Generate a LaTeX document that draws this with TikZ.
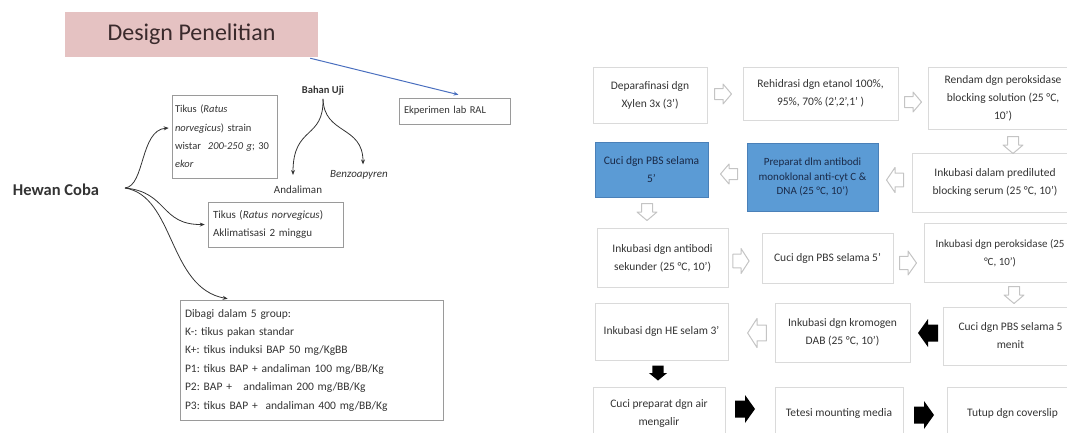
\documentclass[tikz,border=0pt]{standalone}
\usepackage{fontspec}
\setmainfont{Carlito}
\frenchspacing
\usetikzlibrary{arrows.meta,calc}
\definecolor{titlepink}{HTML}{E5C2C2}
\definecolor{titletext}{HTML}{3A2A2C}
\definecolor{ltext}{HTML}{333333}
\definecolor{lboxgray}{HTML}{9A9A9A}
\definecolor{rtext}{HTML}{333333}
\definecolor{rboxgray}{HTML}{DADADA}
\definecolor{boxblue}{HTML}{5B9BD5}
\definecolor{boxblueedge}{HTML}{4A80B8}
\definecolor{bluetext}{HTML}{1A2A48}
\definecolor{arrowgray}{HTML}{C4C4C4}
\definecolor{linkblue}{HTML}{4A6FBF}
\begin{document}
\begin{tikzpicture}[x=1pt,y=-1pt,
  lbox/.style={draw=lboxgray, line width=0.6pt, align=left, inner sep=5pt,
    text=ltext, font=\fontsize{11}{18.4}\selectfont},
  ltxt/.style={text=ltext, inner sep=0pt, font=\fontsize{11}{13}\selectfont},
  rbox/.style={draw=rboxgray, line width=0.8pt, align=center, inner sep=2pt,
    text=rtext, font=\fontsize{11.5}{18}\selectfont},
  bbox/.style={rbox, fill=boxblue, draw=boxblueedge, text=bluetext},
  conn/.style={draw=ltext, line width=0.8pt, -{Stealth[length=5pt,width=4pt]}},
  pics/hollowarr/.style={code={
    \draw[arrowgray, fill=white, line width=1pt, line join=round]
      (-8.5,-5.5) -- (0,-5.5) -- (0,-10) -- (8.5,0) -- (0,10) -- (0,5.5) -- (-8.5,5.5) -- cycle;}},
  pics/blackarr/.style={code={
    \fill[black] (-10,-8.5) -- (0,-8.5) -- (0,-14) -- (10,0) -- (0,14) -- (0,8.5) -- (-10,8.5) -- cycle;}}
]
\useasboundingbox (0,0) rectangle (1067,432);

% ---------- left part ----------
\node[fill=titlepink, minimum width=253pt, minimum height=45pt, inner sep=0pt,
  text=titletext, font=\fontsize{24}{28}\selectfont] (title) at (191.5,34.5) {Design Penelitian};

\node[draw=lboxgray, line width=0.6pt, minimum width=111pt, minimum height=26pt,
  text width=101pt, align=left, inner sep=5pt, text=ltext,
  font=\fontsize{10.5}{13}\selectfont] (eks) at (454.5,111) {Ekperimen lab RAL};

\node[text=ltext, inner sep=0pt, font=\fontsize{16.5}{20}\selectfont\bfseries] (hc) at (56,190) {Hewan Coba};
\coordinate (hcout) at (125,188);

\node[lbox, inner xsep=3pt, minimum width=105pt, minimum height=83pt, text width=99pt,
  font=\fontsize{10.5}{18.4}\selectfont] (b1) at (224.5,136.5)
  {Tikus (\textit{Ratus}\\\textit{norvegicus}) strain\\wistar \ \textit{200-250 g}; 30\\\textit{ekor}};
\node[lbox, minimum width=135pt, minimum height=45pt, text width=125pt] (b2) at (275.5,224.5)
  {Tikus (\textit{Ratus norvegicus})\\Aklimatisasi 2 minggu};
\node[lbox, minimum width=263pt, minimum height=120pt, text width=253pt,
  font=\fontsize{11.5}{18.4}\selectfont] (b3) at (311.5,360)
  {Dibagi dalam 5 group:\\K-: tikus pakan standar\\K+: tikus induksi BAP 50 mg/KgBB\\P1: tikus BAP + andaliman 100 mg/BB/Kg\\P2: BAP + \ \ andaliman 200 mg/BB/Kg\\P3: tikus BAP + \ andaliman 400 mg/BB/Kg};

\node[ltxt, font=\fontsize{10.5}{13}\selectfont\bfseries] (bu) at (323,91) {Bahan Uji};
\node[ltxt] (an) at (298,190) {Andaliman};
\node[ltxt] (bz) at (359,175) {\textit{Benzoapyren}};

\draw[conn] (hcout) .. controls (145,186) and (140,130) .. ($(b1.west)+(-3,-8.5)$);
\draw[conn] (hcout) .. controls (168,192) and (160,225) .. ($(b2.west)+(-3,0)$);
\draw[conn] (hcout) .. controls (175,196) and (168,288) .. ($(b3.north west)+(48,-1)$);
\draw[conn] ($(bu.south)+(0,3)$) .. controls (324,140) and (293,125) .. ($(an.north)+(-5,-11)$);
\draw[conn] ($(bu.south)+(0,3)$) .. controls (324,135) and (363,125) .. ($(bz.north)+(4,-6)$);
\draw[draw=linkblue, line width=1pt, -{Stealth[length=5pt,width=4pt]}]
  ($(title.south east)+(-8,1)$) -- ($(eks.north)+(4,-3)$);

% ---------- right part ----------
\node[rbox, minimum width=114pt, minimum height=56pt] (r1a) at (650,95) {Deparafinasi dgn\\Xylen 3x (3')};
\node[rbox, minimum width=155pt, minimum height=53pt] (r1b) at (820.5,93.5) {Rehidrasi dgn etanol 100\%,\\95\%, 70\% (2',2',1' )};
\node[rbox, minimum width=150pt, minimum height=62pt] (r1c) at (1003,98) {Rendam dgn peroksidase\\blocking solution (25 °C,\\10')};

\node[bbox, minimum width=113pt, minimum height=55pt] (r2a) at (651.5,169.5) {Cuci dgn PBS selama\\5'};
\node[bbox, minimum width=131pt, minimum height=68pt, font=\fontsize{11}{14.5}\selectfont] (r2b) at (812.5,177) {Preparat dlm antibodi\\monoklonal anti-cyt C \&\\DNA (25 °C, 10')};
\node[rbox, minimum width=166pt, minimum height=59pt] (r2c) at (995,182.5) {Inkubasi dalam prediluted\\blocking serum (25 °C, 10')};

\node[rbox, minimum width=131pt, minimum height=59pt] (r3a) at (662.5,258) {Inkubasi dgn antibodi\\sekunder (25 °C, 10')};
\node[rbox, minimum width=131pt, minimum height=50pt] (r3b) at (827.5,258) {Cuci dgn PBS selama 5'};
\node[rbox, minimum width=151pt, minimum height=59pt, font=\fontsize{11}{18}\selectfont] (r3c) at (1000,253) {Inkubasi dgn peroksidase (25\\°C, 10')};

\node[rbox, minimum width=133pt, minimum height=57pt] (r4a) at (661.5,331.5) {Inkubasi dgn HE selam 3'};
\node[rbox, minimum width=135pt, minimum height=59pt] (r4b) at (842.5,332.5) {Inkubasi dgn kromogen\\DAB (25 °C, 10')};
\node[rbox, minimum width=135pt, minimum height=58pt] (r4c) at (1010.5,336) {Cuci dgn PBS selama 5\\menit};

\node[rbox, minimum width=132pt, minimum height=53pt] (r5a) at (659,413.5) {Cuci preparat dgn air\\mengalir};
\node[rbox, minimum width=128pt, minimum height=53pt] (r5b) at (839,413.5) {Tetesi mounting media};
\node[rbox, minimum width=131pt, minimum height=53pt] (r5c) at (1012.5,413.5) {Tutup dgn coverslip};

% block arrows between steps
\pic (a1) at (723,94) {hollowarr};
\pic (a2) at (913,102) {hollowarr};
\pic[rotate=-90] (a3) at (1013,145) {hollowarr};
\pic[rotate=180, yscale=1.25] (a4) at (895,180) {hollowarr};
\pic[rotate=180] (a5) at (729,174) {hollowarr};
\pic[rotate=-90] (a6) at (647,212) {hollowarr};
\pic[yscale=1.25, xscale=0.95] (a7) at (741,261) {hollowarr};
\pic[yscale=1.2] (a8) at (908,263) {hollowarr};
\pic[rotate=-90] (a9) at (1014,295) {hollowarr};
\pic[rotate=180, yscale=1.45, xscale=1.1] (a10) at (757,333) {hollowarr};
\pic[rotate=180] (a11) at (928,333) {blackarr};
\pic[rotate=-90, xscale=0.75, yscale=0.65] (a12) at (658,373) {blackarr};
\pic (a13) at (745,409) {blackarr};
\pic (a14) at (924,415) {blackarr};
\end{tikzpicture}
\end{document}
